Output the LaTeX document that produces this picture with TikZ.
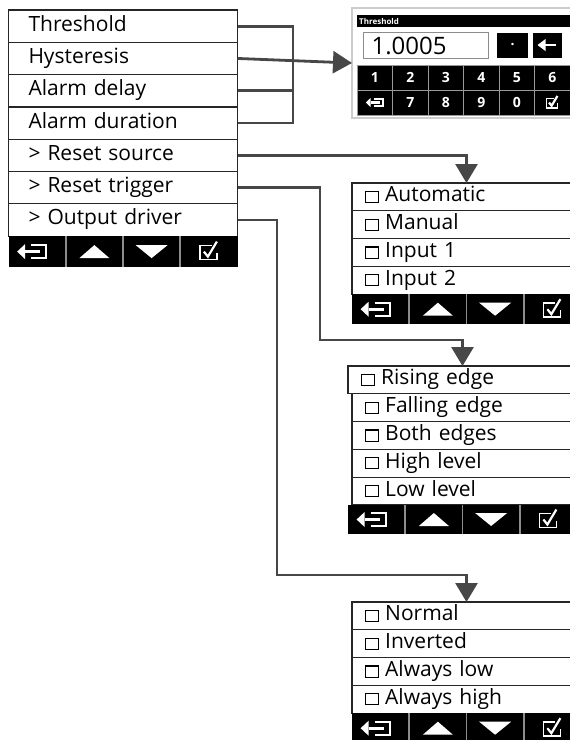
\documentclass[tikz,border=0pt]{standalone}
\usepackage{fontspec}
\setmainfont{Open Sans}
\usetikzlibrary{positioning,arrows.meta}

% check box in front of the choices
\newcommand\cbox{{\setlength\fboxsep{0pt}\setlength\fboxrule{1.1pt}\fbox{\rule{0pt}{10pt}\hspace{12pt}}}\hspace{6pt}}

\tikzset{
  mrow/.style={draw=black!85, line width=1.2pt, fill=white, outer sep=0pt,
    minimum width=229pt, minimum height=32.3pt, inner xsep=20pt, inner ysep=0pt,
    text width=189pt, text height=15pt, text depth=5pt, align=left,
    font=\fontsize{21}{21}\selectfont, text=black},
  srow/.style={mrow, minimum height=27.8pt, inner xsep=13pt, text width=203pt},
  tbcell/.style={fill=black, draw=none, outer sep=0pt, minimum width=57.25pt, inner sep=0pt},
  tbsep/.style={draw=black!45, line width=1.6pt},
  kpkey/.style={fill=black, draw=black!40, line width=0.9pt, outer sep=0pt,
    minimum width=35.5pt, minimum height=25pt, inner sep=0pt, text=white,
    font=\fontsize{14}{14}\selectfont\bfseries},
  link/.style={draw=black!72, line width=2.8pt},
  tip/.style={-{Triangle[width=22pt,length=19pt]}},
  exiticon/.pic={
    \draw[white, line width=2pt] (-6,-6.5) -- (9,-6.5) -- (9,6.5) -- (-6,6.5);
    \draw[white, line width=2.8pt] (3,0) -- (-12,0);
    \fill[white] (-20,0) -- (-12,-7.5) -- (-12,7.5) -- cycle;
  },
  upicon/.pic={\fill[white] (-15,6.5) -- (15,6.5) -- (0,-6.5) -- cycle;},
  downicon/.pic={\fill[white] (-16,-6.5) -- (16,-6.5) -- (0,6.5) -- cycle;},
  okicon/.pic={
    \draw[white, line width=1.6pt] (3,-6) -- (-9,-6) -- (-9,8) -- (8,8) -- (8,1);
    \draw[white, line width=2.2pt] (-5,0) -- (-1,5) -- (8,-10);
  },
}

% toolbar under a menu: name, north west corner, height
\newcommand\menubar[3]{
  \node[tbcell, anchor=north west, minimum height=#3] (#1a) at #2 {};
  \node[tbcell, right=0pt of #1a, minimum height=#3] (#1b) {};
  \node[tbcell, right=0pt of #1b, minimum height=#3] (#1c) {};
  \node[tbcell, right=0pt of #1c, minimum height=#3] (#1d) {};
  \pic at (#1a.center) {exiticon};
  \pic at (#1b.center) {upicon};
  \pic at (#1c.center) {downicon};
  \pic at (#1d.center) {okicon};
  \draw[tbsep] (#1a.north east) -- (#1a.south east);
  \draw[tbsep] (#1b.north east) -- (#1b.south east);
  \draw[tbsep] (#1c.north east) -- (#1c.south east);
}

\begin{document}
\begin{tikzpicture}[x=1pt, y=-1pt]
  \useasboundingbox (0,0) rectangle (570,740);
  \clip (0,0) rectangle (570,740);

  % main menu
  \node[mrow, anchor=north west] (thr) at (8.5,10) {Threshold};
  \node[mrow, below=0pt of thr] (hys) {Hysteresis};
  \node[mrow, below=0pt of hys] (del) {Alarm delay};
  \node[mrow, below=0pt of del] (dur) {Alarm duration};
  \node[mrow, below=0pt of dur] (src) {> Reset source};
  \node[mrow, below=0pt of src] (trg) {> Reset trigger};
  \node[mrow, below=0pt of trg] (drv) {> Output driver};
  \menubar{tbm}{(drv.south west)}{31pt}

  % number pad
  \node[draw=black!20, line width=2pt, fill=white, minimum width=220pt, minimum height=110pt, outer sep=0pt] (kp) at (462,63) {};
  \node[fill=black, anchor=north west, minimum width=213pt, minimum height=12pt, inner xsep=2pt, inner ysep=0pt,
    text width=209pt, align=left, text=white, font=\fontsize{8}{8}\selectfont\bfseries] (kptitle) at (357,15) {Threshold};
  \node[draw=black!45, line width=1.2pt, anchor=north west, minimum width=125pt, minimum height=26pt, inner xsep=8pt,
    text width=109pt, align=left, font=\fontsize{24}{24}\selectfont, text=black] (val) at (363,32) {1.0005};
  \node[kpkey, anchor=north west, minimum width=31pt, minimum height=25pt, draw=none] (dot) at (497,32.5) {.};
  \node[kpkey, anchor=north west, minimum width=29pt, minimum height=25pt, draw=none] (bsp) at (533,32.5) {};
  \draw[white, line width=2.6pt] ([xshift=8pt]bsp.center) -- ([xshift=-3pt]bsp.center);
  \fill[white] ([xshift=-10pt]bsp.center) -- ++(8,-6) -- ++(0,12) -- cycle;
  \foreach \d [count=\i] in {1,...,6}
    \node[kpkey] (k\d) at ({357+35.5*(\i-0.5)}, 77.5) {\d};
  \node[kpkey] (kex) at (374.75,102.5) {};
  \foreach \d [count=\i] in {7,8,9,0}
    \node[kpkey] (k\d) at ({357+35.5*(\i+0.5)}, 102.5) {\d};
  \node[kpkey] (kok) at (552.25,102.5) {};
  \pic[scale=0.6] at ([xshift=3pt]kex.center) {exiticon};
  \pic[scale=0.65] at (kok.center) {okicon};

  % reset source choices
  \node[srow, anchor=north west] (auto) at (352,183) {\cbox Automatic};
  \node[srow, below=0pt of auto] (man) {\cbox Manual};
  \node[srow, below=0pt of man] (in1) {\cbox Input 1};
  \node[srow, below=0pt of in1] (in2) {\cbox Input 2};
  \menubar{tbs}{(in2.south west)}{30pt}

  % reset trigger choices
  \node[srow, anchor=north west] (rise) at (348,366) {\cbox Rising edge};
  \node[srow, below=0pt of rise, xshift=4pt] (fall) {\cbox Falling edge};
  \node[srow, below=0pt of fall] (both) {\cbox Both edges};
  \node[srow, below=0pt of both] (high) {\cbox High level};
  \node[srow, below=0pt of high] (low) {\cbox Low level};
  \menubar{tbt}{([xshift=-4pt]low.south west)}{29pt}

  % output driver choices
  \node[srow, anchor=north west] (norm) at (352,602) {\cbox Normal};
  \node[srow, below=0pt of norm] (inv) {\cbox Inverted};
  \node[srow, below=0pt of inv] (alow) {\cbox Always low};
  \node[srow, below=0pt of alow] (ahigh) {\cbox Always high};
  \menubar{tbo}{(ahigh.south west)}{30pt}

  % links
  \coordinate (brk) at (293,0);
  \coordinate (trgbend) at (320,340);
  \coordinate (drvbend) at (277,575);
  \draw[link] (thr.east) -- (thr.east -| brk) -- (dur.east -| brk) -- (dur.east);
  \draw[link] (del.east) -- (del.east -| brk);
  \draw[link, tip] (hys.east) -- (kp.west);
  \draw[link, tip] (src.east) -| (auto.north);
  \draw[link, tip] (trg.east) -| (trgbend) -| (rise.north);
  \draw[link, tip] (drv.east) -| (drvbend) -| (norm.north);
\end{tikzpicture}
\end{document}
